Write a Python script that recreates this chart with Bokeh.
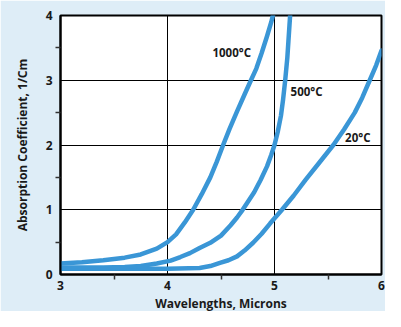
from bokeh.plotting import figure
from bokeh.models import FixedTicker, Range1d, Label, BoxAnnotation, Title
from bokeh.embed import file_html
from bokeh.resources import INLINE

# ---- data ----
x_1000 = [3.0, 3.2, 3.4, 3.6, 3.75, 3.9, 4.0, 4.08, 4.16, 4.24, 4.32, 4.4, 4.46, 4.52,
          4.58, 4.65, 4.72, 4.78, 4.83, 4.88, 4.93, 4.97, 5.0]
y_1000 = [0.17, 0.19, 0.22, 0.26, 0.31, 0.4, 0.5, 0.62, 0.8, 1.0, 1.24, 1.5, 1.74, 2.0,
          2.25, 2.52, 2.78, 3.0, 3.18, 3.42, 3.68, 3.9, 4.1]

x_500 = [3.0, 3.4, 3.6, 3.75, 3.9, 4.03, 4.12, 4.21, 4.3, 4.4, 4.5, 4.59, 4.65, 4.69,
         4.75, 4.81, 4.87, 4.93, 4.97, 5.0, 5.03, 5.06, 5.08, 5.1, 5.12, 5.13, 5.14, 5.15]
y_500 = [0.11, 0.11, 0.115, 0.13, 0.17, 0.215, 0.27, 0.33, 0.41, 0.49, 0.6, 0.76, 0.88, 0.97,
         1.12, 1.27, 1.46, 1.67, 1.85, 2.0, 2.2, 2.45, 2.7, 3.0, 3.35, 3.6, 3.85, 4.1]

x_20 = [3.0, 4.0, 4.2, 4.3, 4.4, 4.49, 4.57, 4.65, 4.72, 4.8, 4.88, 4.96, 5.07, 5.18,
        5.29, 5.42, 5.55, 5.65, 5.75, 5.82, 5.89, 5.95, 6.0]
y_20 = [0.09, 0.09, 0.095, 0.1, 0.13, 0.18, 0.22, 0.28, 0.37, 0.49, 0.63, 0.79, 1.0, 1.22,
        1.46, 1.73, 2.0, 2.24, 2.5, 2.73, 3.0, 3.23, 3.46]

x_ticks = [3, 4, 5, 6]
x_minor = [3.5, 4.5, 5.5]
y_ticks = [0, 1, 2, 3, 4]
y_minor = [0.5, 1.5, 2.5, 3.5]

labels = ["1000°C", "500°C", "20°C"]
label_x = [4.42, 5.15, 5.66]
label_y = [3.43, 2.82, 2.11]

x_title = "Wavelengths, Microns"
y_title = "Absorption Coefficient, 1/Cm"

BG = "#deedf7"
BLUE = "#3a96d6"
EDGE = "#4a9fdb"
FONT = "Open Sans"
INK = "#1a1a1a"

p = figure(width=385, height=311, output_backend="svg", toolbar_location=None,
           x_range=Range1d(3, 6), y_range=Range1d(0, 4),
           min_border_left=60, min_border_right=4, min_border_top=15, min_border_bottom=36)
p.background_fill_color = "white"
p.border_fill_color = BG
p.outline_line_color = "black"
p.outline_line_width = 2

p.xaxis.ticker = FixedTicker(ticks=x_ticks, minor_ticks=x_minor)
p.yaxis.ticker = FixedTicker(ticks=y_ticks, minor_ticks=y_minor)

for ax in (p.xaxis, p.yaxis):
    ax.axis_line_color = "black"
    ax.axis_line_width = 2
    ax.major_tick_out = 0
    ax.major_tick_in = 0
    ax.minor_tick_in = 0
    ax.minor_tick_out = 5
    ax.minor_tick_line_color = "#333333"
    ax.minor_tick_line_width = 1.5
    ax.major_label_text_font = FONT
    ax.major_label_text_font_style = "bold"
    ax.major_label_text_font_size = "12px"
    ax.major_label_text_color = INK
    ax.axis_label_text_font = FONT
    ax.axis_label_text_font_style = "bold"
    ax.axis_label_text_font_size = "12px"
    ax.axis_label_text_color = INK

p.yaxis.axis_label = y_title
p.xaxis.major_label_standoff = 1
p.yaxis.major_label_standoff = 3
p.yaxis.axis_label_standoff = 12

p.grid.grid_line_color = "black"
p.grid.grid_line_width = 1
p.grid.grid_line_alpha = 1

for xs, ys in ((x_20, y_20), (x_500, y_500), (x_1000, y_1000)):
    p.line(xs, ys, line_color=BLUE, line_width=4.5, line_join="round", line_cap="round")

for t, lx, ly in zip(labels, label_x, label_y):
    p.add_layout(Label(x=lx, y=ly, text=t, text_font=FONT, text_font_style="bold",
                       text_font_size="11.5px", text_color=INK, text_baseline="middle",
                       text_align="left"))

# x-axis title, as a title panel under the axis
p.add_layout(Title(text=x_title, align="center", standoff=0, offset=0,
                   text_font=FONT, text_font_style="bold", text_font_size="12px",
                   text_color=INK), "below")

# blue left edge of the panel
p.add_layout(BoxAnnotation(left=5, right=7.5, top=0, bottom=311,
                           left_units="canvas", right_units="canvas",
                           top_units="canvas", bottom_units="canvas",
                           fill_color=EDGE, fill_alpha=1, line_alpha=0))

open("out.html", "w").write(file_html(p, INLINE))
